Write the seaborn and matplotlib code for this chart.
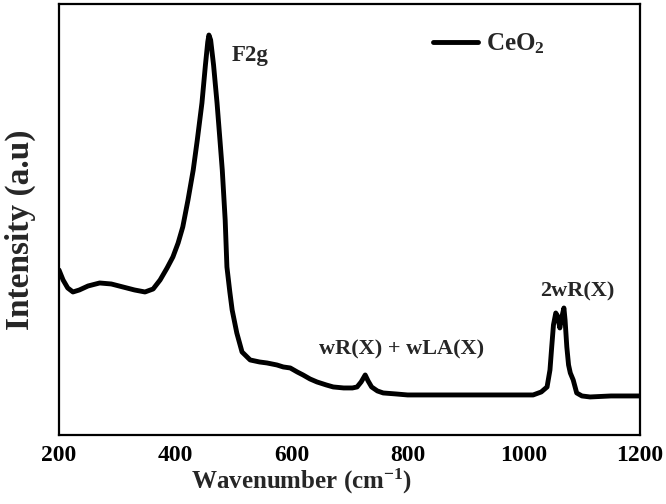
import pandas as pd
import seaborn as sns
import matplotlib.pyplot as plt

# Raman spectrum of CeO2 (arbitrary units)
wavenumber = [200, 207, 215, 224, 235, 250, 270, 290, 310, 330, 348, 362, 374, 386,
              396, 405, 413, 422, 431, 438, 446, 452, 456, 458, 461, 466, 472, 477,
              481, 486, 489, 494, 498, 506, 515, 529, 545, 558, 575, 586, 598, 610,
              620, 632, 644, 660, 672, 690, 705, 713, 720, 727, 732, 738, 748, 758,
              780, 800, 844, 900, 950, 1000, 1016, 1030, 1040, 1045, 1048, 1051, 1055,
              1058, 1062, 1065, 1069, 1071, 1074, 1077, 1080, 1085, 1091, 1100, 1114,
              1150, 1200]
intensity = [165, 155, 147, 143, 145, 149, 152, 151, 148, 145, 143, 146, 155, 167,
             178, 192, 208, 235, 265, 295, 332, 370, 393, 400, 395, 370, 332, 295,
             265, 215, 168, 143, 125, 102, 83, 75, 73, 72, 70, 68, 67, 63,
             60, 56, 53, 50, 48, 47, 47, 48, 53, 60, 54, 48, 44, 42,
             41, 40, 40, 40, 40, 40, 40, 43, 48, 65, 88, 110, 122,
             119, 107, 117, 127, 115, 88, 70, 62, 55, 42, 39, 38,
             39, 39]

peak_labels = ['F2g', 'wR(X) + wLA(X)', '2wR(X)']
label_x = [498, 790, 1092]
label_y = [380, 85, 143]

df = pd.DataFrame({'wavenumber': wavenumber, 'intensity': intensity})

sns.set_theme(style='ticks')
plt.rcParams['font.family'] = ['Liberation Serif', 'DejaVu Serif']
plt.rcParams['font.weight'] = 'bold'
plt.rcParams['mathtext.fontset'] = 'custom'
plt.rcParams['mathtext.rm'] = 'Liberation Serif:bold'
plt.rcParams['mathtext.it'] = 'Liberation Serif:bold'
plt.rcParams['mathtext.bf'] = 'Liberation Serif:bold'

fig, ax = plt.subplots(figsize=(6.66, 5.04), dpi=100)
fig.subplots_adjust(left=0.0886, right=0.961, top=0.992, bottom=0.137)

sns.lineplot(data=df, x='wavenumber', y='intensity', color='black', lw=3.5,
             label='CeO$_2$', ax=ax)

ax.set_xlim(200, 1200)
ax.set_ylim(0, 431)
ax.set_xticks(range(200, 1201, 200))
ax.set_yticks([])
ax.tick_params(axis='x', length=0, pad=7, labelsize=17, colors='black')
for s in ax.spines.values():
    s.set_linewidth(1.6)
    s.set_color('black')

ax.set_xlabel('Wavenumber (cm$^{-1}$)', fontsize=18, fontweight='bold')
ax.set_ylabel('Intensity (a.u)', fontsize=24, fontweight='bold')
ax.xaxis.set_label_coords(0.418, -0.075)
ax.yaxis.set_label_coords(-0.04, 0.476)

ax.text(label_x[0], label_y[0], peak_labels[0], fontsize=16.5, fontweight='bold', ha='left', va='center')
ax.text(label_x[1], label_y[1], peak_labels[1], fontsize=16, fontweight='bold', ha='center', va='center')
ax.text(label_x[2], label_y[2], peak_labels[2], fontsize=16, fontweight='bold', ha='center', va='center')

ax.legend(loc='center left', bbox_to_anchor=(0.644, 0.907), frameon=False,
          borderpad=0, borderaxespad=0, handlelength=1.8, handletextpad=0.3,
          prop={'size': 18, 'weight': 'bold'})

fig.savefig('out.png', dpi=100)
